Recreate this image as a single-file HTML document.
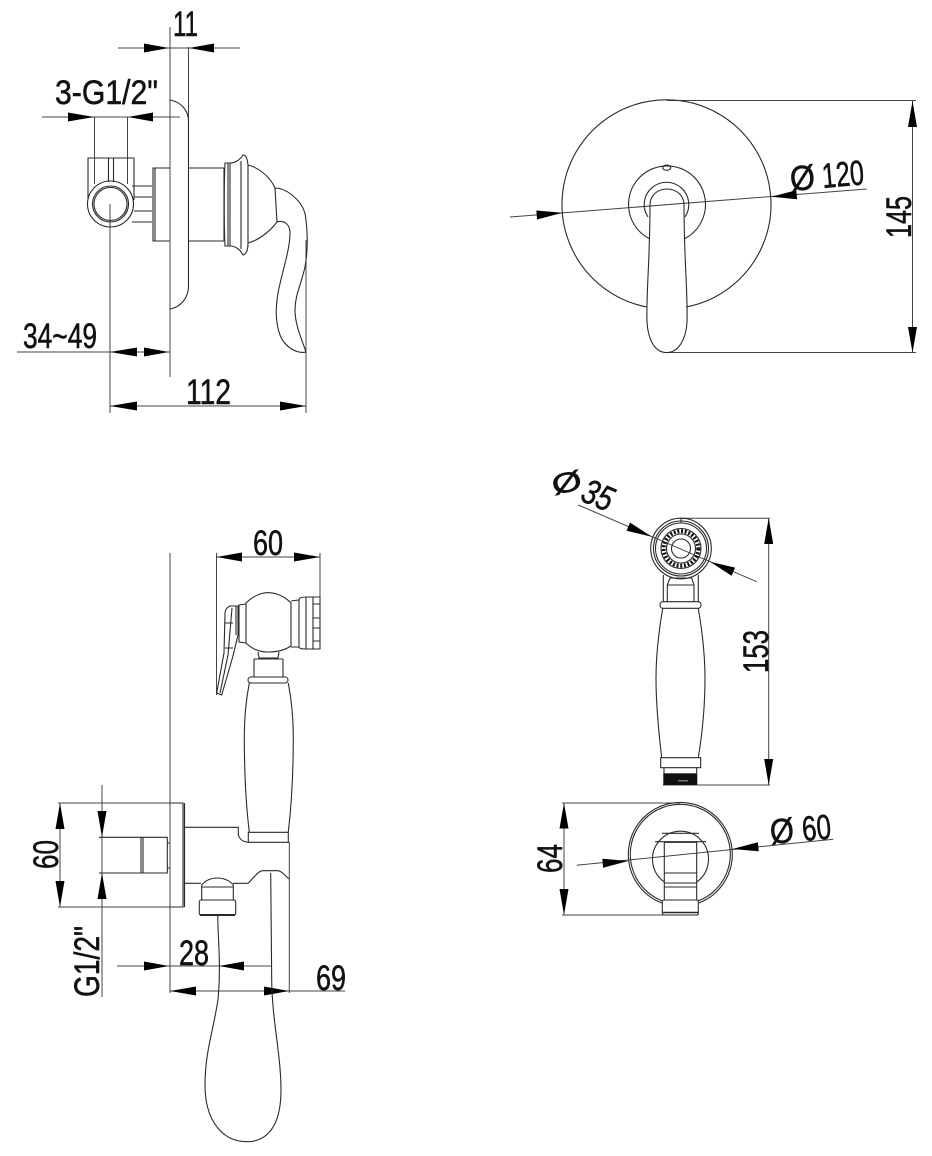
<!DOCTYPE html>
<html><head><meta charset="utf-8"><style>
html,body{margin:0;padding:0;background:#fff}
svg{display:block}
.l{fill:none;stroke:#2a2a2a;stroke-width:1.1}
.d{fill:none;stroke:#444;stroke-width:1}
.a{fill:#000;stroke:none}
text{font-family:"Liberation Sans",sans-serif;font-size:35px;fill:#111;stroke:#111;stroke-width:.55}
</style></head><body>
<svg width="932" height="1156" viewBox="0 0 932 1156" xmlns="http://www.w3.org/2000/svg">
<rect width="932" height="1156" fill="#fff"/>

<!-- TOP LEFT -->
<g class="d">
<path d="M170 27V377M188.5 47V120M118 48H240"/>
<path d="M42 117H180M94.5 117V184M127.5 117V184"/>
<path d="M17 352H170M110 204V413M306 240V413M110 406H306"/>
</g>
<g class="a">
<polygon points="169,48 144,43.5 144,52.5"/><polygon points="189,48 214,43.5 214,52.5"/>
<polygon points="94,117 68,112.5 68,121.5"/><polygon points="128,117 153,112.5 153,121.5"/>
<polygon points="110,352 137,347.5 137,356.5"/><polygon points="169,352 144,347.5 144,356.5"/>
<polygon points="110,406 137,401.5 137,410.5"/><polygon points="306,406 280,401.5 280,410.5"/>
</g>
<g class="l">
<path d="M170 100C181 102 188 110 188.5 120V287C188 298 181 307 170 309"/>
<path d="M134 200V158H88V200M108.5 158V182M113.5 158V182"/>
<circle cx="110.5" cy="204" r="23"/><circle cx="110.5" cy="204" r="18"/><circle cx="110.5" cy="204" r="16.5"/>
<path d="M132 186H152M134 197H152M134 211H152M132 222H152"/>
<path d="M170 168H153V241H170M155 168V241"/>
<path d="M188 168H224M188 241H224M224 168V241"/>
<path d="M277 222C268 234 256 241 248 243C248 248 247 254 243 255C240 249 235 246 230 246H225C224 225 224 185 225 163H230C235 163 240 160 243 155C245 155 247 156 248 165C257 167 270 176 275 188"/>
<path d="M228 163V246M230 163V246M241 161V249M248 165V243"/>
<path d="M275 188C285 188 300 198 305 213C308 232 308 250 305 267C301 285 295 295 295 310C295 325 302 340 306 352C298 354 285 348 280 335C275 322 276 305 278 293C282 272 290 250 290 233C290 224 284 220 277 222"/>
<path d="M275 188L277 222"/>
</g>
<text x="173" y="36" textLength="25" lengthAdjust="spacingAndGlyphs">11</text>
<text x="55" y="104" textLength="103" lengthAdjust="spacingAndGlyphs" style="font-size:34px">3-G1/2"</text>
<text x="23" y="348" textLength="74" lengthAdjust="spacingAndGlyphs">34~49</text>
<text x="186" y="404" textLength="45" lengthAdjust="spacingAndGlyphs">112</text>

<!-- TOP RIGHT -->
<g class="d">
<path d="M667 100.5H916M667 352.5H916M912.5 100.5V352.5"/>
<path d="M510 217L866.7 189"/>
</g>
<g class="a">
<polygon points="912.5,101 908,127 917,127"/><polygon points="912.5,352.5 908,327 917,327"/>
<polygon points="562.3,212.7 537.1,219.5 536.3,210.5"/><polygon points="771.3,196.7 797.1,199.2 796.3,190.2"/>
</g>
<g class="l">
<path d="M647 307A104.5 104.5 0 1 1 686 307"/>
<path d="M650 239A38.5 38.5 0 1 1 684 239"/>
<ellipse cx="666.7" cy="167.7" rx="4" ry="2.6"/>
<path d="M648 217A22.3 22.3 0 1 1 685 217"/>
<path d="M650 205C650 195 658 189 667 189C676 189 684 195 684 205C684 260 688 295 687 322C686 340 678 352.6 666.7 352.6C655 352.6 648 340 647 322C646 295 650 260 650 205Z"/>
</g>
<text transform="translate(791 191) rotate(-5)" textLength="25" lengthAdjust="spacingAndGlyphs">Ø</text>
<text transform="translate(823 188) rotate(-5)" textLength="42" lengthAdjust="spacingAndGlyphs">120</text>
<text transform="translate(911 238) rotate(-90)" textLength="42" lengthAdjust="spacingAndGlyphs">145</text>

<!-- BOTTOM LEFT -->
<g class="d">
<path d="M170 553V993M216.5 553V695M320 553V600M216.5 557H320"/>
<path d="M58 803H183M58 907H183M60 803V907M102 785V997"/>
<path d="M117 966H271M170 991H345M289.3 842V993"/>
</g>
<g class="a">
<polygon points="216.5,557 242,552.5 242,561.5"/><polygon points="320,557 294,552.5 294,561.5"/>
<polygon points="60,803 55.5,829 64.5,829"/><polygon points="60,907 55.5,881 64.5,881"/>
<polygon points="102,837 97.5,811 106.5,811"/><polygon points="102,873 97.5,899 106.5,899"/>
<polygon points="169,966 144,961.5 144,970.5"/><polygon points="219,966 244,961.5 244,970.5"/>
<polygon points="170,991 196,986.5 196,995.5"/><polygon points="289,991 264,986.5 264,995.5"/>
</g>
<g class="l">
<path d="M246 603C252 597 260 592.7 268 592.7C277 592.7 285 597 291 603V646C285 650 277 652 268 652C259 652 252 649 246 643Z"/>
<path d="M291 601L299 600V647L291 647M299 600C299 598 301 597 306 597V649C301 649 299 648 299 647M306 597H320V649H306Z"/>
<path d="M313 597V649M313 604H320M313 618H320M313 628H320M313 641H320"/>
<path d="M246 604L239 605V642L246 643"/>
<path d="M230 606C226 608 225 611 225 613L224 653L216.7 693L221.7 695L232.7 657L238 635V606Z"/>
<path d="M220 693L228 655L232 608M225 623H233M225 648H233M236 635V606"/>
<path d="M258 652L259 658H278L279 652M254 659H283M254 659V677M283 659V677"/>
<path d="M251 677H285C289 677 289 683 285 683H251C247 683 247 677 251 677Z"/>
<path d="M249.3 683C246 700 244.3 720 244.3 737C244.3 770 246 805 249.3 832M288.3 683C291.5 700 293.3 720 293.3 737C293.3 770 291.5 805 288.3 832"/>
<path d="M248.3 832.3H288.3V842.3H248.3Z"/>
<path d="M170 803H183V907H170" />
<path d="M184.5 803V907" style="stroke-width:1.2"/>
<path d="M99 837.3H167.3V873H99M167.3 843H170M167.3 868H170M141 837.3V873M143 837.3V873"/>
<path d="M184 827.3H238.3V835C240 840 244 842 248.3 842.3"/>
<path d="M184 883.3H201M233 883.3H248C254 878 258 870.7 263 870.7H278C282 871 285 876 289.3 879"/>
<path d="M201.7 900V885C206 880 211 878 217 878C223 878 229 880 233.3 885V900M201.7 887H233.3"/>
<path d="M201 900H234C235.5 900 235.7 901 235.7 902V913C235.7 914.5 235 915 234 915H201C200 915 199.3 914.5 199.3 913V902C199.3 901 200 900 201 900Z"/>
<path d="M200 915H235" style="stroke-width:2"/>
<path d="M217.7 915C218 940 221 965 218.3 996.7C215 1025 205 1050 205 1085C205 1120 222 1141.7 246.7 1141.7C268 1141.7 281 1125 281 1090C281 1055 272 1020 271.7 980L270.7 873"/>
</g>
<text x="253" y="555" textLength="30" lengthAdjust="spacingAndGlyphs">60</text>
<text x="179" y="965" textLength="30" lengthAdjust="spacingAndGlyphs">28</text>
<text x="316" y="990" textLength="30" lengthAdjust="spacingAndGlyphs">69</text>
<text transform="translate(58 869) rotate(-90)" textLength="29" lengthAdjust="spacingAndGlyphs">60</text>
<text transform="translate(99 997) rotate(-90)" textLength="71" lengthAdjust="spacingAndGlyphs">G1/2"</text>

<!-- MIDDLE RIGHT -->
<g class="d">
<path d="M681 518.3H770M768.7 518.3V785M663 785H770"/>
<path d="M578.3 505L756.7 581.7"/>
</g>
<g class="a">
<polygon points="768.7,518 764.2,544 773.2,544"/><polygon points="768.7,785 764.2,759 773.2,759"/>
<polygon points="651.7,536.7 626.5,530.8 630.1,522.6"/><polygon points="710,561.7 731.5,575.8 735.1,567.6"/>
</g>
<g class="l">
<circle cx="681" cy="548.5" r="30.3"/><circle cx="681" cy="548.5" r="27.5"/><circle cx="681" cy="548.5" r="25.5"/>
<circle cx="681" cy="548.5" r="20"/><circle cx="681" cy="548.5" r="14.5"/><circle cx="681" cy="548.5" r="9.5"/>
<circle cx="681" cy="548.5" r="17.3" style="stroke-width:4;stroke-dasharray:2 1.7;stroke:#111"/>
<path d="M681 518V523"/>
<path d="M663.3 575V601.7M698.3 575V601.7M667.3 585V601.7M694 585V601.7M667.3 585H694M670 578H691.7M670 578L667.3 585M691.7 578L694 585"/>
<path d="M663 601.7H698C702 601.7 702 608.3 698 608.3H663C659 608.3 659 601.7 663 601.7Z"/>
<path d="M662.7 608.3C659 630 656 655 656 678.3C656 705 659 735 661.7 757.7M698.3 608.3C702 630 705 655 705 678.3C705 705 702 735 698.3 757.7"/>
<path d="M660.7 757.7H700.7V767.7H660.7Z"/>
<path d="M664 767.7V773.3M696.7 767.7V773.3"/>
</g>
<rect x="663.3" y="773.3" width="34" height="11.7" fill="#111"/>
<rect x="678" y="780" width="10" height="1.5" fill="#777"/>
<text transform="translate(554 495) rotate(-12)" textLength="30" lengthAdjust="spacingAndGlyphs" style="font-size:28px">Ø</text>
<text transform="translate(579 500) rotate(23)" textLength="31" lengthAdjust="spacingAndGlyphs" style="font-style:italic">35</text>
<text transform="translate(768 673) rotate(-90)" textLength="43" lengthAdjust="spacingAndGlyphs">153</text>

<!-- BOTTOM RIGHT -->
<g class="d">
<path d="M562 803H680M562 915H664M564 803V915"/>
<path d="M576.7 865.3L833.3 839.3"/>
</g>
<g class="a">
<polygon points="564,803 559.5,828.5 568.5,828.5"/><polygon points="564,915 559.5,889 568.5,889"/>
<polygon points="628.3,861 603.1,867.8 602.3,858.8"/><polygon points="732.3,849 758.7,851.2 757.9,842.2"/>
</g>
<g class="l">
<path d="M661.7 903A52 52 0 1 1 698.9 903"/>
<path d="M662.5 901A50 50 0 1 1 698.1 901"/>
<path d="M664.3 882A28 28 0 1 1 696.7 882"/>
<path d="M662 833.3H699M655 841.7H706"/>
<path d="M664.3 842.3H696.7V900H664.3ZM664.3 873H696.7M664.3 883H696.7M664.3 887H696.7"/>
<path d="M664 900H697C698 900 698.3 901 698.3 902V913C698.3 914.5 698 915 697 915H664C663 915 662.3 914.5 662.3 913V902C662.3 901 663 900 664 900Z"/>
<path d="M663 912.5H698" style="stroke-width:1.6"/>
</g>
<text transform="translate(771 844) rotate(-5)" textLength="24" lengthAdjust="spacingAndGlyphs">Ø</text>
<text transform="translate(803 841) rotate(-5)" textLength="29" lengthAdjust="spacingAndGlyphs">60</text>
<text transform="translate(562 873) rotate(-90)" textLength="29" lengthAdjust="spacingAndGlyphs">64</text>
</svg>
</body></html>
